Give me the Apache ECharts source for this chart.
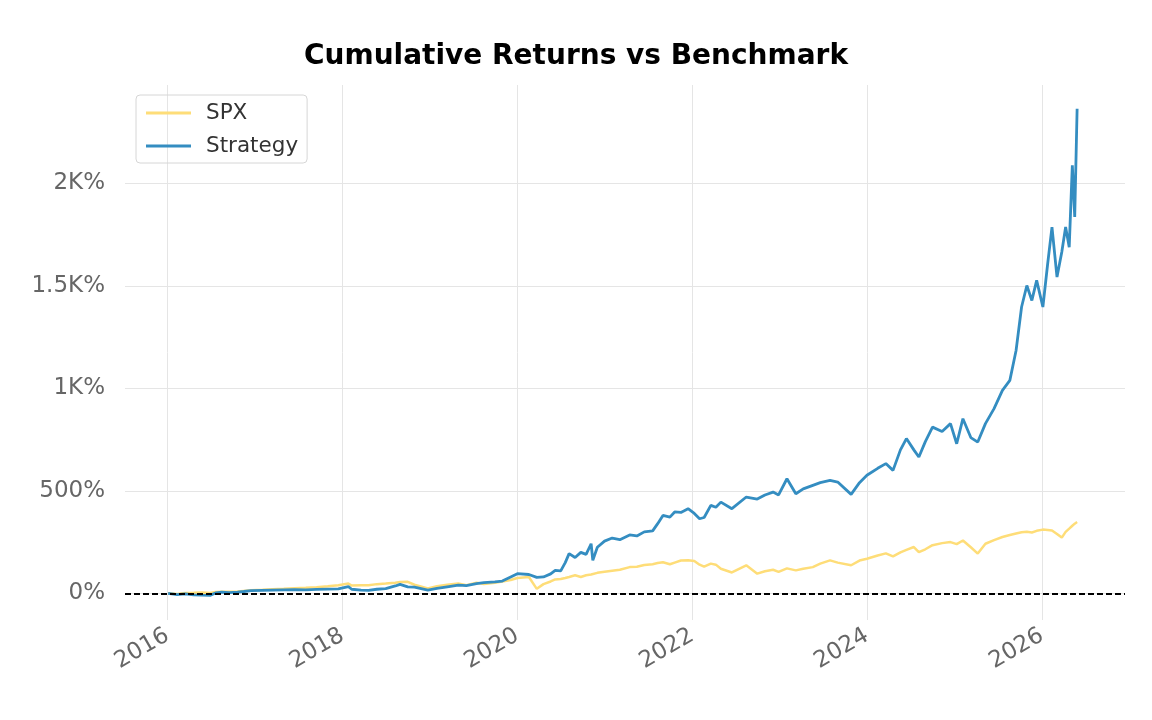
<!DOCTYPE html>
<html>
<head>
<meta charset="utf-8">
<script src="https://cdn.jsdelivr.net/npm/echarts@6/dist/echarts.min.js"></script>
<style>
html, body { margin: 0; padding: 0; background: #fff; }
#chart { width: 1152px; height: 720px; }
</style>
</head>
<body>
<div id="chart"></div>
<script>
// dates of the sampled points
var dates = [
  '2016-01-04','2016-02-11','2016-03-15','2016-04-20','2016-05-25','2016-06-27','2016-07-20','2016-08-15','2016-09-15','2016-10-20',
  '2016-11-15','2016-12-15','2017-02-01','2017-03-15','2017-05-01','2017-06-15','2017-08-01','2017-09-15','2017-11-01','2017-12-15',
  '2018-01-26','2018-02-09','2018-03-20','2018-04-20','2018-05-25','2018-07-01','2018-08-10','2018-08-30','2018-10-01','2018-10-29',
  '2018-12-24','2019-01-31','2019-03-15','2019-04-30','2019-06-03','2019-07-15','2019-08-15','2019-09-30','2019-10-31','2019-12-05',
  '2020-01-02','2020-02-19','2020-03-23','2020-04-20','2020-05-20','2020-06-08','2020-07-01','2020-07-20','2020-08-05','2020-08-30',
  '2020-09-23','2020-10-15','2020-11-05','2020-11-12','2020-12-01','2020-12-31','2021-02-01','2021-03-05','2021-04-15','2021-05-15',
  '2021-06-15','2021-07-20','2021-08-10','2021-09-01','2021-09-30','2021-10-20','2021-11-15','2021-12-15','2022-01-10','2022-02-01',
  '2022-02-20','2022-03-20','2022-04-10','2022-05-01','2022-06-16','2022-08-15','2022-09-30','2022-11-01','2022-12-05','2022-12-28',
  '2023-02-01','2023-03-10','2023-04-10','2023-05-20','2023-06-20','2023-07-31','2023-09-01','2023-10-27','2023-12-01','2024-01-01',
  '2024-02-15','2024-03-20','2024-04-19','2024-05-20','2024-06-14','2024-07-15','2024-08-05','2024-09-01','2024-10-01','2024-11-10',
  '2024-12-15','2025-01-10','2025-02-05','2025-03-10','2025-04-08','2025-05-10','2025-06-15','2025-07-20','2025-08-20','2025-09-15',
  '2025-10-08','2025-10-30','2025-11-20','2025-12-10','2026-01-05','2026-01-25','2026-02-12','2026-03-05','2026-03-25','2026-04-10',
  '2026-04-25','2026-05-08','2026-05-18','2026-05-28'
]
// cumulative return in %
var strategy = [
  0,-6,-3,-7,-9,-10,2,6,4,6,
  9,13,15,16,17,18,17,19,21,22,
  33,20,16,15,20,23,36,44,32,30,
  16,24,32,40,38,47,52,56,60,80,
  96,92,78,80,95,112,110,150,194,175,
  200,190,242,161,225,255,270,262,285,280,
  300,305,340,380,372,397,395,413,390,364,
  370,429,420,445,413,470,460,480,494,480,
  559,486,510,527,540,551,543,483,540,576,
  610,633,600,700,755,700,665,740,811,790,
  828,730,852,760,738,828,901,990,1039,1185,
  1397,1502,1429,1527,1397,1608,1787,1543,1665,1787,
  1689,2088,1836,2364
]
var spx = [
  0,-3,2,3,4,2,7,8,8,9,
  12,15,17,20,22,25,27,30,35,40,
  48,38,40,40,45,48,52,55,56,42,
  24,35,42,48,40,52,46,52,58,65,
  75,80,22,45,58,68,70,75,80,88,
  80,88,92,94,100,105,110,115,128,130,
  138,142,148,152,142,150,160,162,158,140,
  130,145,140,120,102,137,96,108,115,105,
  122,112,120,128,145,161,150,137,160,169,
  185,195,180,200,212,226,201,215,235,245,
  250,240,258,225,194,242,260,275,285,292,
  298,300,297,305,311,309,307,290,272,300,
  316,330,340,348
]
var yTicks = [0, 500, 1000, 1500, 2000]
var xYears = ['2016','2018','2020','2022','2024','2026']

function ts(d) {
    return new Date(d + 'T00:00:00').getTime()
}
function pair(arr) {
    return dates.map(function (d, i) { return [ts(d), arr[i]] })
}
var xTicks = xYears.map(function (y) { return ts(y + '-01-01') })

var chart = echarts.init(document.getElementById('chart'))
var font = 'DejaVu Sans'
var option = {
    animation: false,
    textStyle: { fontFamily: font },
    title: {
        text: 'Cumulative Returns vs Benchmark',
        left: 'center',
        top: 38,
        textStyle: { fontSize: 28, fontWeight: 'bold', color: '#000', fontFamily: font }
    },
    legend: {
        orient: 'vertical',
        left: 136,
        top: 95,
        padding: [7, 9, 6, 10],
        itemGap: 11,
        itemWidth: 45,
        itemHeight: 3,
        icon: 'rect',
        borderColor: '#d6d6d6',
        borderWidth: 1,
        borderRadius: 4,
        textStyle: { fontSize: 21.5, color: '#333', fontFamily: font, padding: [0, 0, 0, 10] },
        data: ['SPX', 'Strategy']
    },
    grid: { left: 125, right: 27, top: 85, bottom: 100 },
    xAxis: {
        type: 'value',
        min: ts('2015-07-08'),
        max: ts('2026-12-14'),
        axisLine: { show: false },
        axisTick: { show: false, customValues: xTicks },
        splitLine: { show: true, lineStyle: { color: '#e5e5e5', width: 1 } },
        axisLabel: {
            customValues: xTicks,
            rotate: 30,
            margin: 14,
            fontSize: 23,
            color: '#666',
            fontFamily: font,
            formatter: function (v) { return String(new Date(v).getFullYear()) }
        }
    },
    yAxis: {
        type: 'value',
        min: -130,
        max: 2480,
        axisLine: { show: false },
        axisTick: { show: false, customValues: yTicks },
        splitLine: { show: true, lineStyle: { color: '#e5e5e5', width: 1 } },
        axisLabel: {
            customValues: yTicks,
            margin: 20,
            fontSize: 23,
            color: '#666',
            fontFamily: font,
            formatter: function (v) {
                if (v >= 1000) return (v / 1000) + 'K%'
                return v + '%'
            }
        }
    },
    series: [
        {
            name: 'SPX',
            type: 'line',
            data: pair(spx),
            showSymbol: false,
            symbol: 'none',
            color: '#fedd78',
            lineStyle: { width: 2.5, color: '#fedd78' },
            z: 2
        },
        {
            name: 'Strategy',
            type: 'line',
            data: pair(strategy),
            showSymbol: false,
            symbol: 'none',
            color: '#348dc1',
            lineStyle: { width: 2.8, color: '#348dc1' },
            z: 3,
            markLine: {
                silent: true,
                symbol: 'none',
                label: { show: false },
                lineStyle: { color: '#000', type: [6, 3], width: 1.8 },
                data: [{ yAxis: 0 }]
            }
        }
    ]
}
chart.setOption(option)
</script>
</body>
</html>
